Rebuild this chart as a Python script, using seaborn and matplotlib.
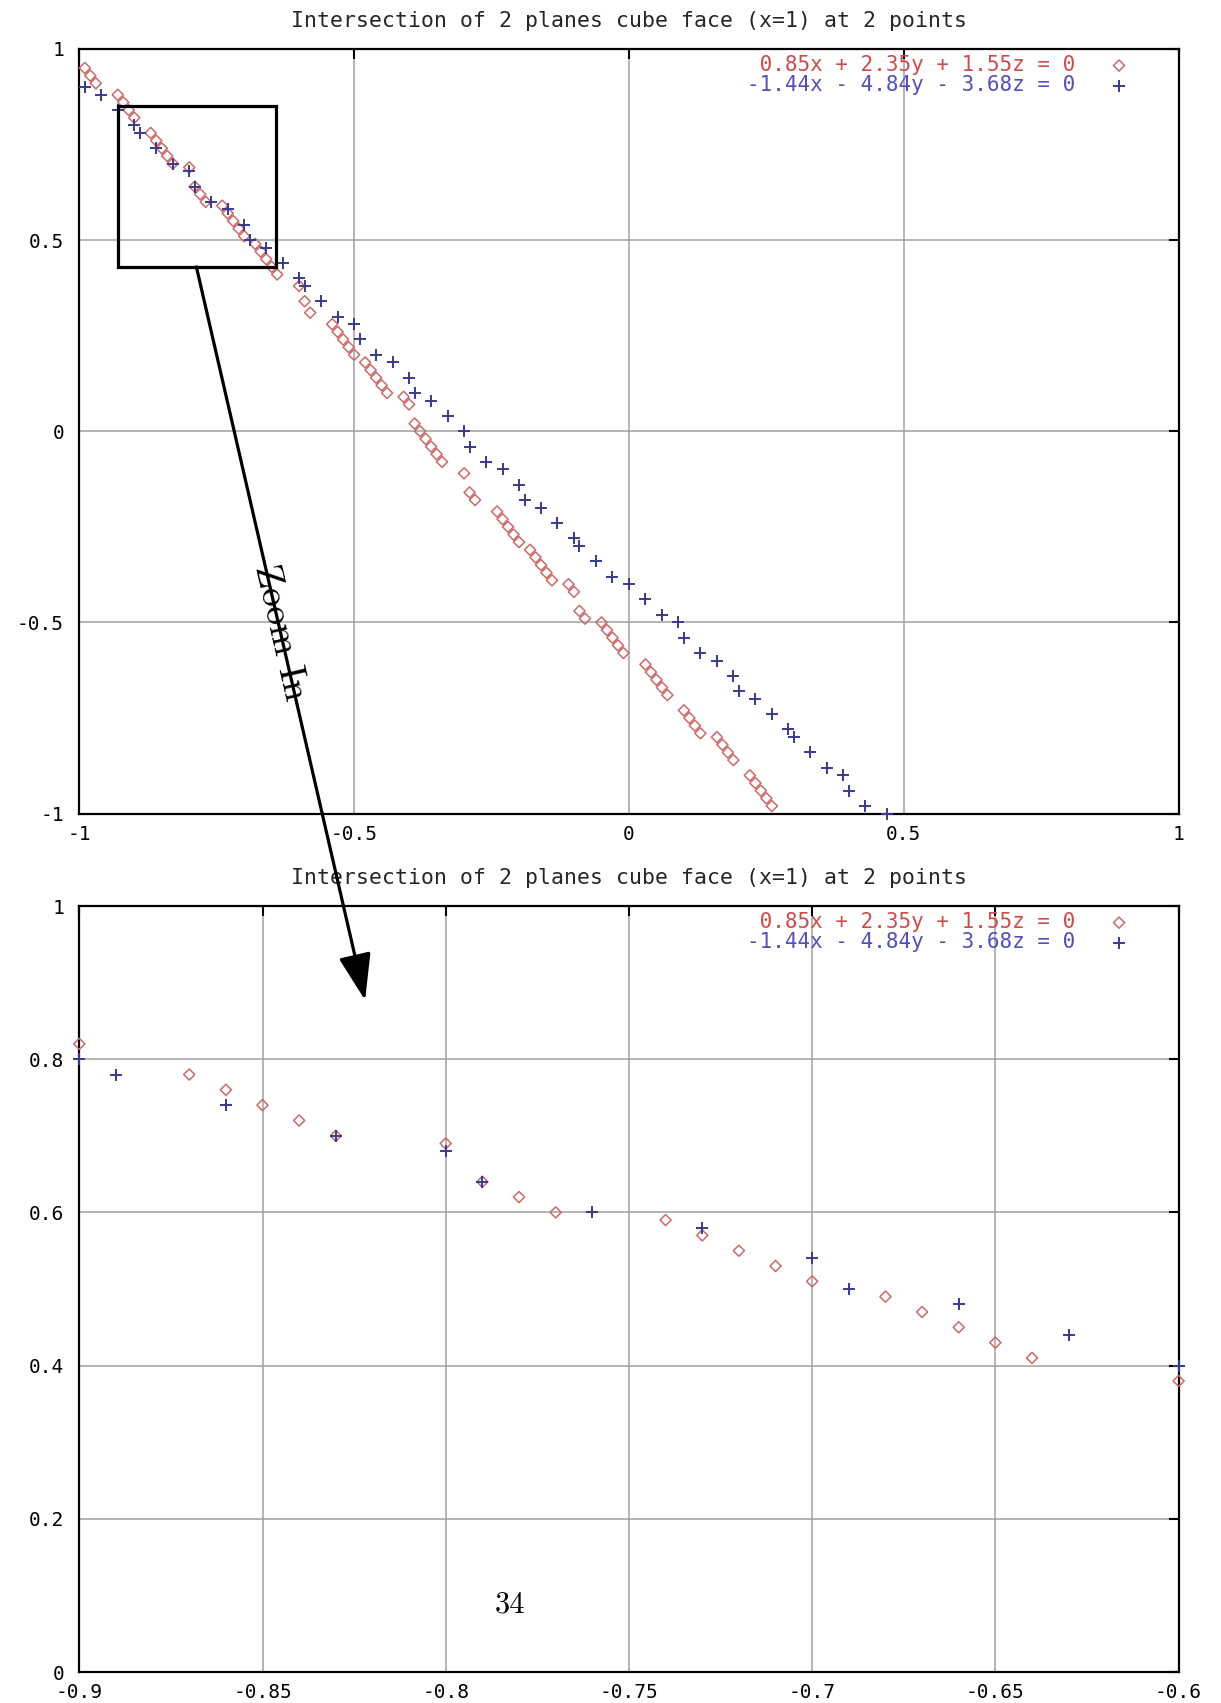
import numpy as np
import pandas as pd
import matplotlib
matplotlib.use("Agg")
import matplotlib.pyplot as plt
import seaborn as sns
from matplotlib.patches import Rectangle, ConnectionPatch

# ---- data -------------------------------------------------------------
red_x = [-0.99, -0.98, -0.97, -0.93, -0.92, -0.91, -0.90, -0.87, -0.86, -0.85,
         -0.84, -0.83, -0.80, -0.79, -0.78, -0.77, -0.74, -0.73, -0.72, -0.71,
         -0.70, -0.68, -0.67, -0.66, -0.65, -0.64, -0.60, -0.59, -0.58, -0.54,
         -0.53, -0.52, -0.51, -0.50, -0.48, -0.47, -0.46, -0.45, -0.44, -0.41,
         -0.40, -0.39, -0.38, -0.37, -0.36, -0.35, -0.34, -0.30, -0.29, -0.28,
         -0.24, -0.23, -0.22, -0.21, -0.20, -0.18, -0.17, -0.16, -0.15, -0.14,
         -0.11, -0.10, -0.09, -0.08, -0.05, -0.04, -0.03, -0.02, -0.01, 0.03,
         0.04, 0.05, 0.06, 0.07, 0.10, 0.11, 0.12, 0.13, 0.16, 0.17,
         0.18, 0.19, 0.22, 0.23, 0.24, 0.25, 0.26]
red_y = [0.95, 0.93, 0.91, 0.88, 0.86, 0.84, 0.82, 0.78, 0.76, 0.74,
         0.72, 0.70, 0.69, 0.64, 0.62, 0.60, 0.59, 0.57, 0.55, 0.53,
         0.51, 0.49, 0.47, 0.45, 0.43, 0.41, 0.38, 0.34, 0.31, 0.28,
         0.26, 0.24, 0.22, 0.20, 0.18, 0.16, 0.14, 0.12, 0.10, 0.09,
         0.07, 0.02, 0.00, -0.02, -0.04, -0.06, -0.08, -0.11, -0.16, -0.18,
         -0.21, -0.23, -0.25, -0.27, -0.29, -0.31, -0.33, -0.35, -0.37, -0.39,
         -0.40, -0.42, -0.47, -0.49, -0.50, -0.52, -0.54, -0.56, -0.58, -0.61,
         -0.63, -0.65, -0.67, -0.69, -0.73, -0.75, -0.77, -0.79, -0.80, -0.82,
         -0.84, -0.86, -0.90, -0.92, -0.94, -0.96, -0.98]

blue_x = [-0.99, -0.96, -0.93, -0.90, -0.89, -0.86, -0.83, -0.80, -0.79, -0.76,
          -0.73, -0.70, -0.69, -0.66, -0.63, -0.60, -0.59, -0.56, -0.53, -0.50,
          -0.49, -0.46, -0.43, -0.40, -0.39, -0.36, -0.33, -0.30, -0.29, -0.26,
          -0.23, -0.20, -0.19, -0.16, -0.13, -0.10, -0.09, -0.06, -0.03, 0.00,
          0.03, 0.06, 0.09, 0.10, 0.13, 0.16, 0.19, 0.20, 0.23, 0.26,
          0.29, 0.30, 0.33, 0.36, 0.39, 0.40, 0.43, 0.47]
blue_y = [0.90, 0.88, 0.84, 0.80, 0.78, 0.74, 0.70, 0.68, 0.64, 0.60,
          0.58, 0.54, 0.50, 0.48, 0.44, 0.40, 0.38, 0.34, 0.30, 0.28,
          0.24, 0.20, 0.18, 0.14, 0.10, 0.08, 0.04, 0.00, -0.04, -0.08,
          -0.10, -0.14, -0.18, -0.20, -0.24, -0.28, -0.30, -0.34, -0.38, -0.40,
          -0.44, -0.48, -0.50, -0.54, -0.58, -0.60, -0.64, -0.68, -0.70, -0.74,
          -0.78, -0.80, -0.84, -0.88, -0.90, -0.94, -0.98, -1.00]

red_label = " 0.85x + 2.35y + 1.55z = 0"
blue_label = "-1.44x - 4.84y - 3.68z = 0"
title = "Intersection of 2 planes cube face (x=1) at 2 points"

full_xticks = [-1, -0.5, 0, 0.5, 1]
full_xlabels = ["-1", "-0.5", "0", "0.5", "1"]
full_yticks = [-1, -0.5, 0, 0.5, 1]
full_ylabels = ["-1", "-0.5", "0", "0.5", "1"]

zoom_xticks = [-0.9, -0.85, -0.8, -0.75, -0.7, -0.65, -0.6]
zoom_xlabels = ["-0.9", "-0.85", "-0.8", "-0.75", "-0.7", "-0.65", "-0.6"]
zoom_yticks = [0, 0.2, 0.4, 0.6, 0.8, 1]
zoom_ylabels = ["0", "0.2", "0.4", "0.6", "0.8", "1"]

# ---- style ------------------------------------------------------------
sns.set_style("white")
MONO = ["DejaVu Sans Mono"]
plt.rcParams["font.family"] = MONO
plt.rcParams["axes.unicode_minus"] = False

RED_MK = "#cc6a6a"
RED_TXT = "#cc4c4c"
BLUE_MK = "#3a3a8e"
BLUE_TXT = "#5050b8"
GRID = "#a0a0a0"
FS_TICK = 14
FS_TITLE = 15.5
FS_KEY = 15

W, H = 1221, 1703
fig = plt.figure(figsize=(W / 100, H / 100), dpi=100)


def box(left, top, right, bottom):
    return [left / W, 1 - bottom / H, (right - left) / W, (bottom - top) / H]


ax_full = fig.add_axes(box(79.3, 48.9, 1178.6, 813.6))
ax_zoom = fig.add_axes(box(79.3, 906, 1178.6, 1672))

red = pd.DataFrame({"x": red_x, "y": red_y})
blue = pd.DataFrame({"x": blue_x, "y": blue_y})


def panel(ax, xlim, ylim, xt, xl, yt, yl):
    eps = 1e-9

    def inside(d):
        return d[(d.x >= xlim[0] - eps) & (d.x <= xlim[1] + eps)
                 & (d.y >= ylim[0] - eps) & (d.y <= ylim[1] + eps)]

    sns.scatterplot(data=inside(red), x="x", y="y", ax=ax, marker="D", s=32,
                    facecolor="none", edgecolor=RED_MK, linewidth=1.1,
                    label=red_label, clip_on=False, zorder=3)
    sns.scatterplot(data=inside(blue), x="x", y="y", ax=ax, marker="+", s=70,
                    color=BLUE_MK, linewidth=1.4,
                    label=blue_label, clip_on=False, zorder=3)

    ax.set_xlim(*xlim)
    ax.set_ylim(*ylim)
    ax.set_xticks(xt)
    ax.set_xticklabels(xl)
    ax.set_yticks(yt)
    ax.set_yticklabels(yl)
    ax.set_xlabel("")
    ax.set_ylabel("")
    ax.set_axisbelow(True)
    ax.grid(True, color=GRID, linewidth=1.1)
    for sp in ax.spines.values():
        sp.set_linewidth(1.6)
        sp.set_color("black")
    ax.tick_params(direction="in", length=7, width=1.5, top=True, right=True,
                   labelsize=FS_TICK, colors="black")
    ax.tick_params(axis="x", pad=8)
    ax.tick_params(axis="y", pad=11)
    ax.set_title(title, fontsize=FS_TITLE, pad=16, family=MONO)

    ax.legend(loc="upper right", bbox_to_anchor=(0.9553, 0.992),
              markerfirst=False, frameon=False,
              prop={"family": MONO, "size": FS_KEY},
              labelcolor=[RED_TXT, BLUE_TXT],
              handlelength=1.0, handletextpad=1.6, labelspacing=0.0,
              borderpad=0.0, borderaxespad=0.0)


panel(ax_full, (-1, 1), (-1, 1), full_xticks, full_xlabels,
      full_yticks, full_ylabels)
panel(ax_zoom, (-0.9, -0.6), (0, 1), zoom_xticks, zoom_xlabels,
      zoom_yticks, zoom_ylabels)

# ---- zoom annotation --------------------------------------------------
ax_full.add_patch(Rectangle((-0.930, 0.430), 0.287, 0.421, fill=False,
                            edgecolor="black", linewidth=2.3,
                            clip_on=False, zorder=5))

arrow = ConnectionPatch(xyA=(-0.787, 0.430), coordsA=ax_full.transData,
                        xyB=(-0.822, 0.877), coordsB=ax_zoom.transData,
                        arrowstyle="-|>,head_length=0.8,head_width=0.28",
                        mutation_scale=36, linewidth=2.3, color="black",
                        zorder=6)
fig.add_artist(arrow)

fig.text(280 / W, 1 - 632 / H, "Zoom In", rotation=-77, rotation_mode="anchor",
         ha="center", va="center", fontfamily="cmr10", fontsize=27,
         color="black", zorder=7)

fig.text(510 / W, 1 - 1605 / H, "34", ha="center", va="center",
         fontfamily="cmr10", fontsize=22, color="black")

fig.savefig("out.png", dpi=100)
